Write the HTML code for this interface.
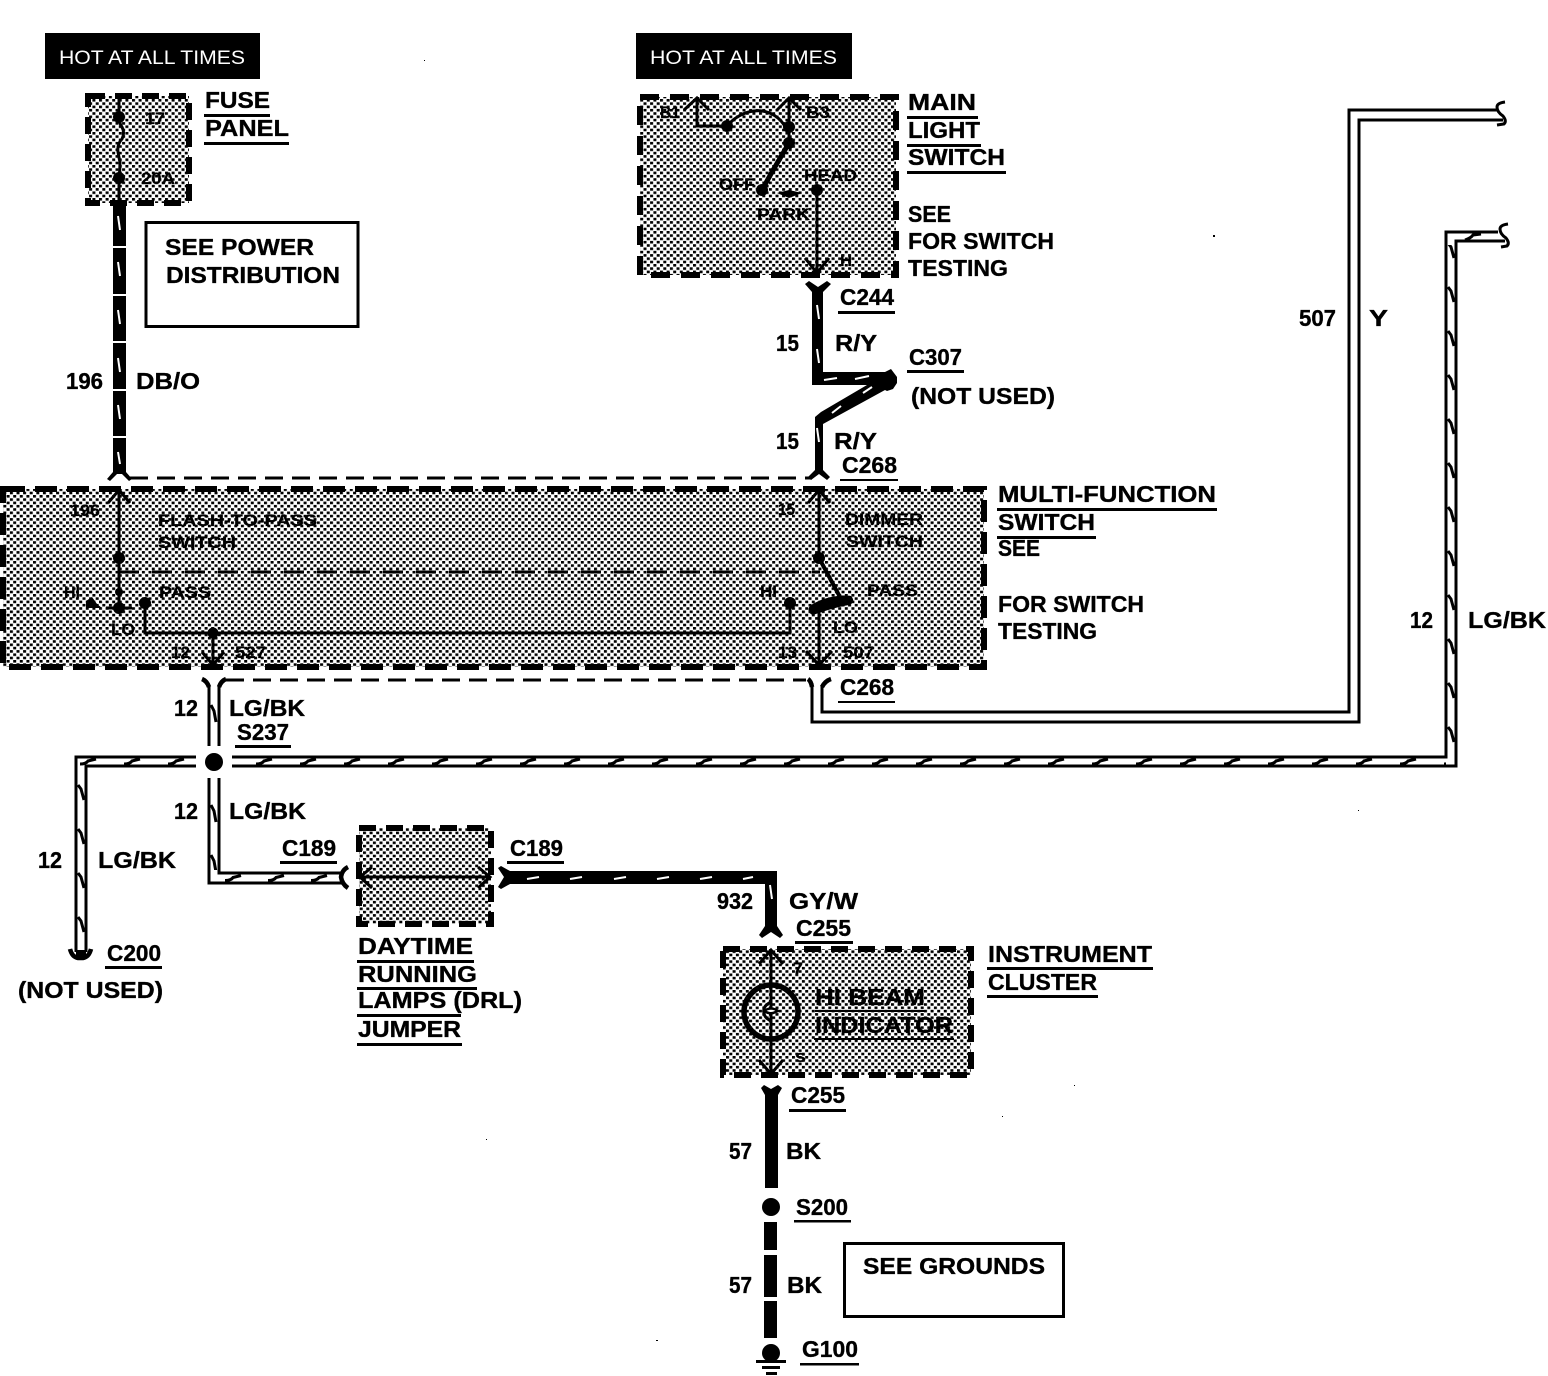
<!DOCTYPE html>
<html><head><meta charset="utf-8"><style>
html,body{margin:0;padding:0;background:#fff}
svg{display:block}
text{font-family:"Liberation Sans",sans-serif;font-weight:700;font-size:23px;fill:#000;stroke:#000;stroke-width:.35}
.s{font-size:17px;font-weight:700;stroke:#000;stroke-width:.2}
.h{font-size:19px;font-weight:400;fill:#fff;stroke:none}
.w{fill:none;stroke:#000;stroke-width:3}
.t{fill:none;stroke:#000;stroke-width:3}
.d{fill:url(#dot);stroke:#000;stroke-width:6;stroke-dasharray:19 11}
.b{fill:none;stroke:#000;stroke-linejoin:miter}
.k{fill:none;stroke:#fff;stroke-width:2}
</style></head><body>
<svg width="1548" height="1376" viewBox="0 0 1548 1376" xmlns="http://www.w3.org/2000/svg">
<defs>
<pattern id="dot" width="6.6" height="6.6" patternUnits="userSpaceOnUse"><rect width="6.6" height="6.6" fill="#fff"/><rect width="3" height="2.6" fill="#000"/><rect x="3.3" y="3.3" width="3" height="2.6" fill="#000"/></pattern>
<pattern id="hz" x="80" y="757" width="44" height="9" patternUnits="userSpaceOnUse"><path d="M0 7q6 0 8-3l8-2" fill="none" stroke="#000" stroke-width="3"/></pattern>
<pattern id="vt" x="76" y="779" width="10" height="44" patternUnits="userSpaceOnUse"><path d="M2 6l3 4 3 11" fill="none" stroke="#000" stroke-width="3"/></pattern>
<pattern id="vr" x="1446" y="721" width="10" height="44" patternUnits="userSpaceOnUse"><path d="M2 6l3 4 3 11" fill="none" stroke="#000" stroke-width="3"/></pattern>
<pattern id="vm" x="209" y="699" width="10" height="50" patternUnits="userSpaceOnUse"><path d="M2 6l3 6 2 11" fill="none" stroke="#000" stroke-width="3"/></pattern>
<pattern id="hb" x="225" y="874.5" width="43" height="7" patternUnits="userSpaceOnUse"><path d="M0 6q6 0 8-3l8-2" fill="none" stroke="#000" stroke-width="3"/></pattern>
</defs>
<rect width="1548" height="1376" fill="#fff"/>

<!-- hot bars -->
<rect x="45" y="33" width="215" height="46" fill="#000"/>
<text class="h" x="59" y="64" textLength="186" lengthAdjust="spacingAndGlyphs">HOT AT ALL TIMES</text>
<rect x="636" y="33" width="216" height="46" fill="#000"/>
<text class="h" x="650" y="64" textLength="187" lengthAdjust="spacingAndGlyphs">HOT AT ALL TIMES</text>

<!-- fuse panel -->
<rect class="d" x="88" y="96" width="101" height="107" style="stroke-dasharray:17 10"/>
<path class="t" d="M119 96V117q0 6 3 10 3 6 0 12-5 5-4 13 1 6 2 10 0 8-1 16V204"/>
<circle cx="119" cy="117" r="6"/><circle cx="119" cy="178" r="6"/>
<text class="s" x="145" y="124" textLength="20" lengthAdjust="spacingAndGlyphs">17</text>
<text class="s" x="141" y="184" textLength="34" lengthAdjust="spacingAndGlyphs">20A</text>
<text x="205" y="108" textLength="65" lengthAdjust="spacingAndGlyphs">FUSE</text>
<rect x="204" y="114" width="66" height="3"/>
<text x="205" y="136" textLength="84" lengthAdjust="spacingAndGlyphs">PANEL</text>
<rect x="204" y="142" width="85" height="3"/>

<!-- see power -->
<rect x="146" y="222.5" width="212" height="104" fill="none" stroke="#000" stroke-width="3"/>
<text x="165" y="255" textLength="149" lengthAdjust="spacingAndGlyphs">SEE POWER</text>
<text x="166" y="283" textLength="174" lengthAdjust="spacingAndGlyphs">DISTRIBUTION</text>

<!-- wire 196 -->
<path d="M113 204h13v268l6 7-3 2-7-7h-5l-7 7-3-2 6-7z"/>
<path stroke="#fff" stroke-width="2" d="M112 247h15M112 295h15M112 342h15M112 390h15M112 437h15"/>
<path class="k" d="M118 216l2 14M118 262l2 14M118 310l2 14M118 358l2 14M118 405l2 14M118 452l2 12"/>
<text x="66" y="389" textLength="37" lengthAdjust="spacingAndGlyphs">196</text>
<text x="136" y="389" textLength="64" lengthAdjust="spacingAndGlyphs">DB/O</text>
<path class="w" d="M130 478H812" stroke-dasharray="18 9"/>

<!-- main light switch -->
<rect class="d" x="640" y="97" width="256" height="178"/>
<path class="t" d="M697 99V126H727M727 126C745 105 775 105 787 130M789 99V143M817 190V272"/>
<path class="t" d="M684 110L697 98 709 110M777 110L789 98 801 110M805 258L817 273 829 258"/>
<path class="b" stroke-width="5" d="M789 143L772 172 762 190"/>
<path d="M777 193l12-3 13 3-13 5z"/>
<circle cx="727" cy="126" r="6"/><circle cx="789" cy="127" r="6"/><circle cx="789" cy="143" r="6"/><circle cx="762" cy="190" r="6"/><circle cx="817" cy="190" r="6"/>
<text class="s" x="660" y="118" textLength="20" lengthAdjust="spacingAndGlyphs">B1</text>
<text class="s" x="806" y="118" textLength="24" lengthAdjust="spacingAndGlyphs">B3</text>
<text class="s" x="719" y="190" textLength="36" lengthAdjust="spacingAndGlyphs">OFF</text>
<text class="s" x="804" y="181" textLength="53" lengthAdjust="spacingAndGlyphs">HEAD</text>
<text class="s" x="757" y="220" textLength="53" lengthAdjust="spacingAndGlyphs">PARK</text>
<text class="s" x="840" y="266" textLength="12" lengthAdjust="spacingAndGlyphs">H</text>
<text x="908" y="110" textLength="68" lengthAdjust="spacingAndGlyphs">MAIN</text><rect x="907" y="116" width="71" height="3"/>
<text x="908" y="138" textLength="72" lengthAdjust="spacingAndGlyphs">LIGHT</text><rect x="907" y="144" width="74" height="3"/>
<text x="908" y="165" textLength="97" lengthAdjust="spacingAndGlyphs">SWITCH</text><rect x="907" y="171" width="99" height="3"/>
<text x="908" y="222" textLength="43" lengthAdjust="spacingAndGlyphs">SEE</text>
<text x="908" y="249" textLength="146" lengthAdjust="spacingAndGlyphs">FOR SWITCH</text>
<text x="908" y="276" textLength="100" lengthAdjust="spacingAndGlyphs">TESTING</text>

<!-- R/Y wire -->
<path d="M805 284l4-3 9 6 9-6 4 3-8 8V372H885l6-3 6 8v6l-4 6-6 2-2-1-62 34V470l7 7-3 3-8-6-8 6-3-3 7-7V417l6-5 46-27H812V292z"/>
<path class="k" d="M817 305l2 14M817 349l2 14M817 428l2 14M824 380l13-2M855 379l14-3M832 413l9-7M863 393l9-6"/>
<text x="840" y="305" textLength="54" lengthAdjust="spacingAndGlyphs">C244</text><rect x="838" y="311" width="57" height="3"/>
<text x="776" y="351" textLength="23" lengthAdjust="spacingAndGlyphs">15</text>
<text x="835" y="351" textLength="42" lengthAdjust="spacingAndGlyphs">R/Y</text>
<text x="909" y="365" textLength="53" lengthAdjust="spacingAndGlyphs">C307</text><rect x="907" y="370" width="57" height="3"/>
<text x="911" y="404" textLength="144" lengthAdjust="spacingAndGlyphs">(NOT USED)</text>
<text x="776" y="449" textLength="23" lengthAdjust="spacingAndGlyphs">15</text>
<text x="834" y="449" textLength="43" lengthAdjust="spacingAndGlyphs">R/Y</text>
<text x="842" y="473" textLength="55" lengthAdjust="spacingAndGlyphs">C268</text><rect x="840" y="479" width="58" height="2"/>

<!-- multi-function -->
<rect class="d" x="3" y="489" width="981" height="178" style="stroke-dasharray:22 10"/>
<path class="w" d="M119 572H820" stroke-dasharray="20 13"/>
<path class="t" d="M119 490V608M819 490V558M145 603V633H790V603M213 633V665M819 610V664"/>
<path class="t" d="M108 503L119 490 130 503M808 503L819 490 830 503M202 652L213 665 224 652M806 651L819 665 832 651M106 608h26"/>
<path class="b" stroke-width="4" d="M819 558L840 597"/>
<path d="M810 606C820 598 840 594 851 596C855 600 853 604 849 605C836 607 822 612 813 615C809 614 807 609 810 606Z"/>
<path d="M92 597l5 7 5 4H86v-7z"/>
<circle cx="119" cy="558" r="6"/><circle cx="119" cy="592" r="4"/><circle cx="119" cy="608" r="6"/><circle cx="145" cy="603" r="6"/><circle cx="213" cy="633" r="5.5"/><circle cx="790" cy="603" r="6"/><circle cx="819" cy="558" r="6"/>
<text class="s" x="70" y="516" textLength="30" lengthAdjust="spacingAndGlyphs">196</text>
<text class="s" x="158" y="526" textLength="159" lengthAdjust="spacingAndGlyphs">FLASH-TO-PASS</text>
<text class="s" x="158" y="548" textLength="78" lengthAdjust="spacingAndGlyphs">SWITCH</text>
<text class="s" x="64" y="598" textLength="16" lengthAdjust="spacingAndGlyphs">HI</text>
<text class="s" x="159" y="598" textLength="52" lengthAdjust="spacingAndGlyphs">PASS</text>
<text class="s" x="111" y="635" textLength="24" lengthAdjust="spacingAndGlyphs">LO</text>
<text class="s" x="171" y="658" textLength="19" lengthAdjust="spacingAndGlyphs">12</text>
<text class="s" x="235" y="658" textLength="31" lengthAdjust="spacingAndGlyphs">527</text>
<text class="s" x="778" y="515" textLength="17" lengthAdjust="spacingAndGlyphs">15</text>
<text class="s" x="845" y="525" textLength="78" lengthAdjust="spacingAndGlyphs">DIMMER</text>
<text class="s" x="846" y="547" textLength="77" lengthAdjust="spacingAndGlyphs">SWITCH</text>
<text class="s" x="760" y="597" textLength="17" lengthAdjust="spacingAndGlyphs">HI</text>
<text class="s" x="867" y="596" textLength="51" lengthAdjust="spacingAndGlyphs">PASS</text>
<text class="s" x="833" y="633" textLength="25" lengthAdjust="spacingAndGlyphs">LO</text>
<text class="s" x="778" y="658" textLength="19" lengthAdjust="spacingAndGlyphs">13</text>
<text class="s" x="843" y="658" textLength="31" lengthAdjust="spacingAndGlyphs">507</text>
<text x="998" y="502" textLength="218" lengthAdjust="spacingAndGlyphs">MULTI-FUNCTION</text><rect x="997" y="508" width="220" height="3"/>
<text x="998" y="530" textLength="97" lengthAdjust="spacingAndGlyphs">SWITCH</text><rect x="997" y="536" width="99" height="3"/>
<text x="998" y="556" textLength="42" lengthAdjust="spacingAndGlyphs">SEE</text>
<text x="998" y="612" textLength="146" lengthAdjust="spacingAndGlyphs">FOR SWITCH</text>
<text x="998" y="639" textLength="99" lengthAdjust="spacingAndGlyphs">TESTING</text>

<!-- dashed below box -->
<path class="w" d="M226 680H806" stroke-dasharray="18 9"/>
<path class="b" stroke-width="4.5" d="M202 679q5 2 7 8M226 679q-5 2-7 8M808 679q3 2 4 8M831 679q-6 2-9 8"/>

<!-- 507 Y wire -->
<path class="w" d="M812 683V722H1359V120H1503M822 685V712H1349V110H1497"/>
<path class="t" d="M1505 102q-8 1-8 5 0 5 6 9 4 5 1 8l-7 1"/>
<text x="1299" y="326" textLength="37" lengthAdjust="spacingAndGlyphs">507</text>
<text x="1369" y="326" textLength="19" lengthAdjust="spacingAndGlyphs">Y</text>
<text x="840" y="695" textLength="54" lengthAdjust="spacingAndGlyphs">C268</text><rect x="838" y="701" width="57" height="2"/>

<!-- LG/BK long wire -->
<rect x="78" y="757" width="118" height="9" fill="url(#hz)"/>
<rect x="232" y="757" width="1214" height="9" fill="url(#hz)"/>
<rect x="76" y="770" width="10" height="175" fill="url(#vt)"/>
<rect x="1446" y="245" width="10" height="515" fill="url(#vr)"/>
<path d="M1465 240q6-2 8-5l8-1" fill="none" stroke="#000" stroke-width="3"/>
<path class="w" d="M1498 232H1446V757H232M232 766H1456V241H1505"/>
<path class="w" d="M196 757H76V952M196 766H86V952"/>
<path class="b" stroke-width="4.5" d="M70 949q2 8 8 9h5q6-1 8-9" />
<path d="M76 950h10v9H76z"/>
<path class="t" d="M1508 224q-8 1-8 5 0 5 6 9 4 5 1 8l-6 1"/>
<text x="1410" y="628" textLength="23" lengthAdjust="spacingAndGlyphs">12</text>
<text x="1468" y="628" textLength="78" lengthAdjust="spacingAndGlyphs">LG/BK</text>
<text x="38" y="868" textLength="24" lengthAdjust="spacingAndGlyphs">12</text>
<text x="98" y="868" textLength="78" lengthAdjust="spacingAndGlyphs">LG/BK</text>
<text x="107" y="961" textLength="54" lengthAdjust="spacingAndGlyphs">C200</text><rect x="105" y="966" width="57" height="3"/>
<text x="18" y="998" textLength="145" lengthAdjust="spacingAndGlyphs">(NOT USED)</text>

<!-- vertical at S237 -->
<rect x="209" y="690" width="10" height="55" fill="url(#vm)"/>
<rect x="209" y="780" width="10" height="90" fill="url(#vm)"/>
<path class="w" d="M209 686V746M219 686V746M209 778V883H342M219 778V873H342"/>
<circle cx="214" cy="762" r="9"/>
<rect x="222" y="874.5" width="118" height="7" fill="url(#hb)"/>
<path class="b" stroke-width="4.5" d="M348 867q-6 3-7 10 1 7 7 11"/>
<text x="174" y="716" textLength="24" lengthAdjust="spacingAndGlyphs">12</text>
<text x="229" y="716" textLength="76" lengthAdjust="spacingAndGlyphs">LG/BK</text>
<text x="237" y="740" textLength="52" lengthAdjust="spacingAndGlyphs">S237</text><rect x="235" y="745" width="56" height="3"/>
<text x="174" y="819" textLength="24" lengthAdjust="spacingAndGlyphs">12</text>
<text x="229" y="819" textLength="77" lengthAdjust="spacingAndGlyphs">LG/BK</text>
<text x="282" y="856" textLength="54" lengthAdjust="spacingAndGlyphs">C189</text><rect x="280" y="861" width="57" height="3"/>

<!-- DRL -->
<rect class="d" x="359" y="828" width="132" height="96" style="stroke-dasharray:17 10"/>
<path class="t" d="M360 877H490M372 867L360 877 372 888M478 867L490 877 478 888"/>
<text x="358" y="954" textLength="115" lengthAdjust="spacingAndGlyphs">DAYTIME</text><rect x="357" y="960" width="117" height="3"/>
<text x="358" y="982" textLength="119" lengthAdjust="spacingAndGlyphs">RUNNING</text><rect x="357" y="987" width="120" height="3"/>
<text x="358" y="1008" textLength="164" lengthAdjust="spacingAndGlyphs">LAMPS (DRL)</text><rect x="357" y="1014" width="104" height="3"/>
<text x="358" y="1037" textLength="103" lengthAdjust="spacingAndGlyphs">JUMPER</text><rect x="357" y="1043" width="105" height="3"/>
<text x="510" y="856" textLength="53" lengthAdjust="spacingAndGlyphs">C189</text><rect x="507" y="861" width="57" height="3"/>

<!-- 932 wire -->
<path d="M498 868l3-2 9 5H777V926l6 9-3 3-9-6-9 6-3-3 6-9V884H510l-9 5-3-2 6-10z"/>
<path class="k" d="M527 879l12-2M570 879l12-2M614 879l12-2M657 879l12-2M700 879l12-2M743 879l10-2M770 885l2 14"/>
<text x="717" y="909" textLength="36" lengthAdjust="spacingAndGlyphs">932</text>
<text x="789" y="909" textLength="69" lengthAdjust="spacingAndGlyphs">GY/W</text>
<text x="796" y="936" textLength="55" lengthAdjust="spacingAndGlyphs">C255</text><rect x="795" y="941" width="58" height="3"/>

<!-- instrument cluster -->
<rect class="d" x="723" y="949" width="248" height="126" style="stroke-dasharray:17 10"/>
<path class="t" d="M771 950V1074M759 964L771 950 783 964M759 1060L771 1074 783 1060"/>
<circle cx="771" cy="1012" r="27" fill="none" stroke="#000" stroke-width="5.5"/>
<path d="M764 1011q7-5 14 0l-5 2q-4 1-9-2z" fill="#fff" stroke="#000" stroke-width="2.5"/>
<path class="t" d="M771 1002q-8 4-7 9M764 1011q-1 6 7 10"/>
<text class="s" x="793" y="974" textLength="10" lengthAdjust="spacingAndGlyphs">7</text>
<text class="s" x="795" y="1062" textLength="11" lengthAdjust="spacingAndGlyphs">s</text>
<text x="815" y="1005" textLength="110" lengthAdjust="spacingAndGlyphs">HI BEAM</text><rect x="815" y="1010" width="111" height="2"/>
<text x="815" y="1033" textLength="138" lengthAdjust="spacingAndGlyphs">INDICATOR</text><rect x="814" y="1038" width="140" height="2"/>
<text x="988" y="962" textLength="164" lengthAdjust="spacingAndGlyphs">INSTRUMENT</text><rect x="987" y="967" width="166" height="3"/>
<text x="988" y="990" textLength="109" lengthAdjust="spacingAndGlyphs">CLUSTER</text><rect x="987" y="995" width="111" height="3"/>

<!-- lower wire -->
<path d="M761 1088l3-3 7 4 7-4 4 3-4 7V1188h-13V1095z"/>
<rect x="764" y="1222" width="13" height="28"/><rect x="764" y="1255" width="13" height="42"/><rect x="764" y="1301" width="13" height="37"/>
<circle cx="771" cy="1207" r="9"/>
<circle cx="771" cy="1353" r="9"/>
<rect x="756" y="1360" width="30" height="3"/><rect x="762" y="1366" width="18" height="3"/><rect x="766" y="1372" width="11" height="3"/>
<text x="791" y="1103" textLength="54" lengthAdjust="spacingAndGlyphs">C255</text><rect x="789" y="1109" width="57" height="3"/>
<text x="729" y="1159" textLength="23" lengthAdjust="spacingAndGlyphs">57</text>
<text x="786" y="1159" textLength="35" lengthAdjust="spacingAndGlyphs">BK</text>
<text x="796" y="1215" textLength="52" lengthAdjust="spacingAndGlyphs">S200</text><rect x="794" y="1220" width="57" height="2.5"/>
<text x="729" y="1293" textLength="23" lengthAdjust="spacingAndGlyphs">57</text>
<text x="787" y="1293" textLength="35" lengthAdjust="spacingAndGlyphs">BK</text>
<text x="802" y="1357" textLength="56" lengthAdjust="spacingAndGlyphs">G100</text><rect x="800" y="1363" width="59" height="2.5"/>
<rect x="844.5" y="1243.5" width="219" height="73" fill="none" stroke="#000" stroke-width="3"/>
<text x="863" y="1274" textLength="182" lengthAdjust="spacingAndGlyphs">SEE GROUNDS</text>

<!-- specks -->
<path d="M424 60h1v1h-1zM1213 235h2v2h-2zM486 1139h1v1h-1zM656 1340h2v1h-2zM1074 1085h1v1h-1zM1002 1116h1v1h-1zM1358 810h1v1h-1z"/>
</svg>
</body></html>
